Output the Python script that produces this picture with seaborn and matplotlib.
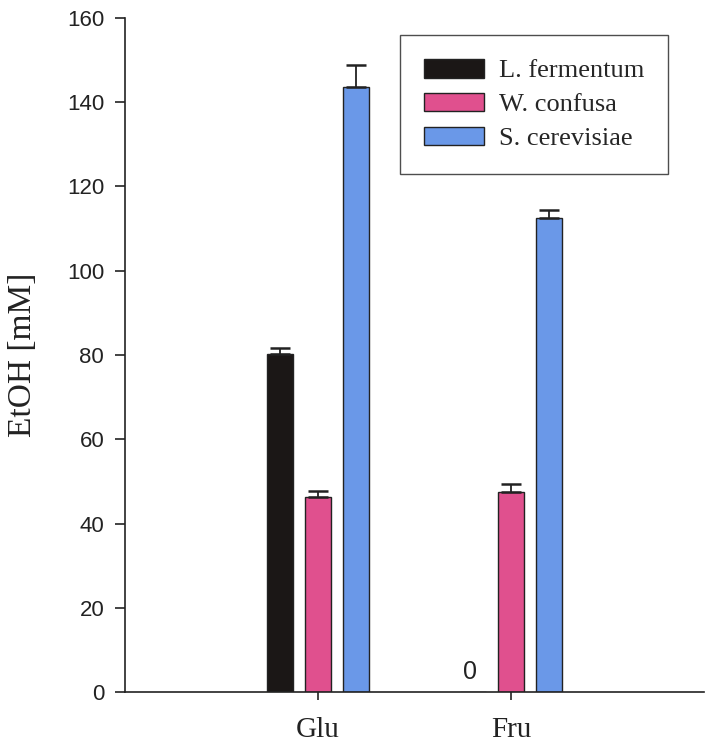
import matplotlib
matplotlib.use("Agg")
import matplotlib.pyplot as plt
import seaborn as sns
import pandas as pd
import numpy as np

sugars = ["Glu", "Fru"]
strains = ["L. fermentum", "W. confusa", "S. cerevisiae"]
glu_values = [80.3, 46.2, 143.6]
fru_values = [0.0, 47.4, 112.5]
glu_errors = [1.4, 1.4, 5.3]
fru_errors = [0.0, 1.9, 2.0]
colors = ["#1b1716", "#e0508e", "#6a98e8"]
yticks = [0, 20, 40, 60, 80, 100, 120, 140, 160]

rows = []
for s, vals, errs in [("Glu", glu_values, glu_errors), ("Fru", fru_values, fru_errors)]:
    for st, v, e in zip(strains, vals, errs):
        rows.append({"sugar": s, "strain": st, "value": v, "err": e})
df = pd.DataFrame(rows)

sns.set_style("ticks")
fig = plt.figure(figsize=(7.08, 7.48), dpi=100)
ax = fig.add_axes([125/708, 1-692/748, 579/708, 674/748])

sns.barplot(data=df, x="sugar", y="value", hue="strain", order=sugars,
            hue_order=strains, palette=colors, width=0.59, gap=0.31,
            errorbar=None, edgecolor="#222222", linewidth=1.0, ax=ax,
            saturation=1)

# error bars (upper only) from the bar patches
for i, st in enumerate(strains):
    cont = ax.containers[i]
    for j, bar in enumerate(cont):
        sub = df[(df.strain == st) & (df.sugar == sugars[j])].iloc[0]
        xc = bar.get_x() + bar.get_width() / 2
        if sub["err"] > 0:
            ax.errorbar(xc, sub["value"], yerr=[[0], [sub["err"]]], fmt="none",
                        ecolor="#222222", elinewidth=1.3, capsize=7.5, capthick=1.8)
        if sub["value"] == 0:
            ax.text(xc - 0.015, 4.7, "0", ha="center", va="center", fontsize=18,
                    family="Liberation Sans", color="#222222")

ax.set_xlim(-1, 2)
ax.set_ylim(0, 160)
ax.set_yticks(yticks)
ax.set_yticklabels([str(t) for t in yticks], fontsize=16, family="Liberation Sans", color="#222222")
ax.set_xticks([0, 1])
ax.set_xticklabels(sugars, fontsize=21, family="Liberation Serif", color="#222222")
ax.tick_params(axis="y", length=7, width=1.2, pad=8, colors="#222222")
ax.tick_params(axis="x", length=6, width=1.2, pad=12, colors="#222222")
ax.set_xlabel("")
ax.set_ylabel("EtOH [mM]", fontsize=24, family="Liberation Serif", labelpad=21, color="#222222")
for sp in ["top", "right"]:
    ax.spines[sp].set_visible(False)
for sp in ["left", "bottom"]:
    ax.spines[sp].set_linewidth(1.2)
    ax.spines[sp].set_color("#222222")

leg = ax.legend(loc="upper left", bbox_to_anchor=((400-125)/579, (692-35)/674),
                prop={"family": "Liberation Serif", "size": 19},
                frameon=True, fancybox=False, edgecolor="#222222",
                handlelength=2.3, handleheight=0.72, labelspacing=0.39,
                borderpad=0.9, handletextpad=0.56, borderaxespad=0)
leg.get_frame().set_linewidth(1.0)

fig.savefig("out.png", dpi=100)
